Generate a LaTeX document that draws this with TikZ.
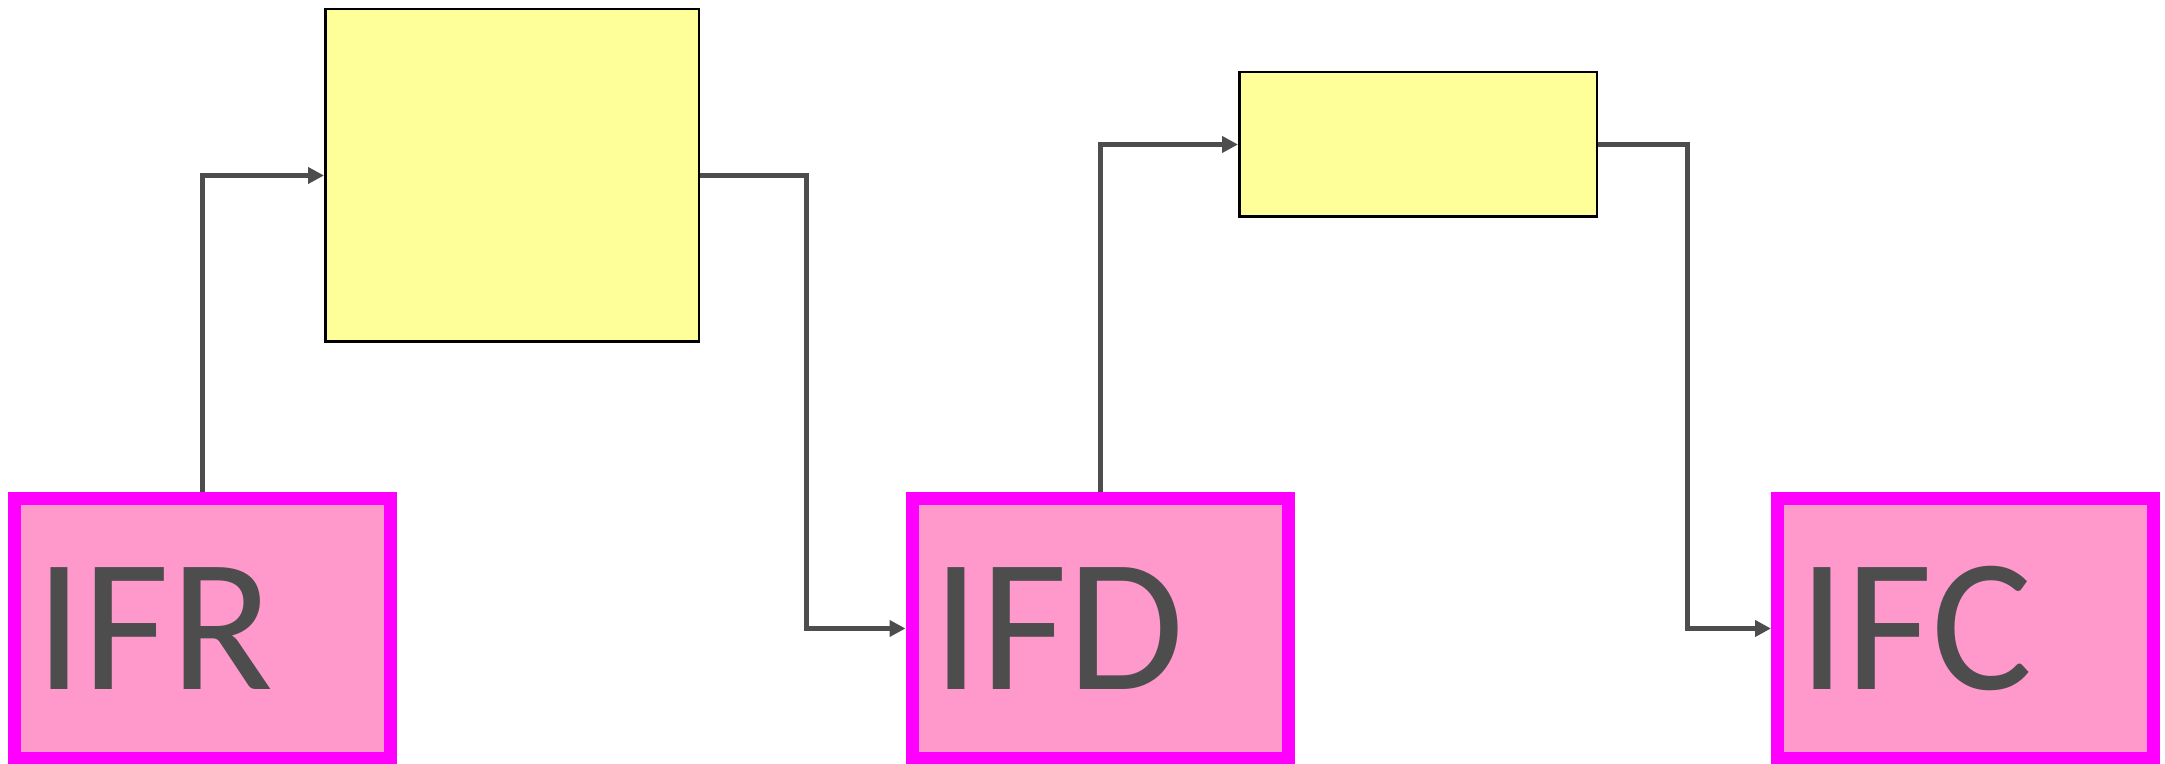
\documentclass[tikz,border=0pt]{standalone}
\usepackage{fontspec}
\setmainfont{Carlito}
\usetikzlibrary{arrows.meta}

\definecolor{ifpink}{HTML}{FF99CC}
\definecolor{ifmagenta}{HTML}{FF00FF}
\definecolor{blkyellow}{HTML}{FFFF99}
\definecolor{wiregray}{HTML}{4D4D4D}

\begin{document}
\begin{tikzpicture}[x=0.5pt, y=0.5pt,
  iface/.style={draw=ifmagenta, fill=ifpink, line width=6.5pt,
    minimum width=188pt, minimum height=130pt, inner xsep=10.25pt,
    text width=167.5pt, align=left, text=wiregray,
    font=\fontsize{95}{100}\selectfont},
  blk/.style={draw=black, fill=blkyellow, line width=1.25pt},
  wire/.style={draw=wiregray, line width=2.5pt, -{Triangle[length=8pt, width=8pt]}}]
  \useasboundingbox (0,0) rectangle (2165,764);
  % interfaces along the bottom
  \node[iface] (ifr) at (202.5,135.5) {IFR};
  \node[iface] (ifd) at (1100,135.5) {IFD};
  \node[iface] (ifc) at (1965.5,135.5) {IFC};
  % yellow blocks on top
  \node[blk, minimum width=186.75pt, minimum height=166.25pt] (blkA) at (512,588.5) {};
  \node[blk, minimum width=178.75pt, minimum height=72.25pt] (blkB) at (1418,619.5) {};
  % connectors
  \draw[wire] (ifr.north) |- (blkA.west);
  \draw[wire] (blkA.east) -- ++(106,0) |- (ifd.west);
  \draw[wire] (ifd.north) |- (blkB.west);
  \draw[wire] (blkB.east) -- ++(89,0) |- (ifc.west);
\end{tikzpicture}
\end{document}
